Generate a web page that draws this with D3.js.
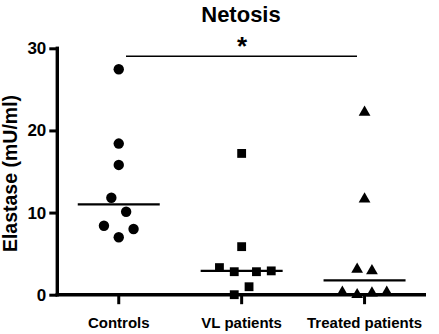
<!DOCTYPE html>
<html>
<head>
<meta charset="utf-8">
<script src="https://cdn.jsdelivr.net/npm/d3@7"></script>
<style>
  body { margin: 0; background: #fff; }
  svg text { font-family: "Liberation Sans", Arial, sans-serif; font-weight: bold; fill: #000; }
</style>
</head>
<body>
<div id="chart"></div>
<script>
// Groups and values (Elastase, mU/ml)
const groups = ["Controls", "VL patients", "Treated patients"];
const controls = [27.45, 18.4, 15.8, 11.8, 10.1, 8.4, 8.0, 7.0];
const vlPatients = [17.2, 5.85, 3.3, 2.8, 2.8, 2.9, 0.97, 0.0];
const treatedPatients = [22.2, 11.65, 3.1, 2.9, 0.3, 0.0, 0.2, 0.3];
const medians = [11.0, 2.9, 1.75];
const yTicks = [0, 10, 20, 30];

// horizontal slot of each point within its column (scatter spreading)
const controlsSlots = [0, 0, 0, -1, 1, -2, 2, 0];
const vlSlots = [0, 0, -3, -1, 2, 4, 1, -1];
const treatedSlots = [0, 0, -1, 1, -3, -1, 1, 3];

const width = 439, height = 334;
const margin = {top: 48.3, right: 13, bottom: 39.3, left: 57.3};
const innerW = width - margin.left - margin.right;
const innerH = height - margin.top - margin.bottom;

const svg = d3.select("#chart").append("svg")
    .attr("width", width)
    .attr("height", height);

const g = svg.append("g")
    .attr("transform", `translate(${margin.left},${margin.top})`);

const x = d3.scaleBand()
    .domain(groups)
    .range([0, innerW]);

const y = d3.scaleLinear()
    .domain([0, 30])
    .range([innerH, 0]);

const slotW = 7.4;

// title
svg.append("text")
    .attr("x", 241)
    .attr("y", 22)
    .attr("text-anchor", "middle")
    .style("font-size", "22px")
    .text("Netosis");

// y label
svg.append("text")
    .attr("transform", `translate(17,${margin.top + innerH / 2 + 2}) rotate(-90)`)
    .attr("text-anchor", "middle")
    .style("font-size", "19.5px")
    .text("Elastase (mU/ml)");

// y axis
const yAxis = g.append("g")
    .call(d3.axisLeft(y).tickValues(yTicks).tickSize(8).tickPadding(3).tickSizeOuter(0));
yAxis.select(".domain").attr("stroke-width", 3.4).attr("stroke", "#000")
    .attr("d", `M0,${innerH + 1.7}V-1.7`);
yAxis.selectAll(".tick line").attr("stroke-width", 3).attr("stroke", "#000");
yAxis.selectAll(".tick text")
    .style("font-size", "17px")
    .attr("fill", "#000")
    .attr("font-family", null);

// x axis
const xAxis = g.append("g")
    .attr("transform", `translate(0,${innerH})`)
    .call(d3.axisBottom(x).tickSize(9.5).tickPadding(13).tickSizeOuter(0));
xAxis.select(".domain").attr("stroke-width", 3.4).attr("stroke", "#000")
    .attr("d", `M-1.7,0H${innerW}`);
xAxis.selectAll(".tick line").attr("stroke-width", 3).attr("stroke", "#000");
xAxis.selectAll(".tick text")
    .style("font-size", "15px")
    .attr("fill", "#000")
    .attr("font-family", null);

// medians
g.selectAll(".median")
    .data(medians)
    .enter().append("line")
    .attr("class", "median")
    .attr("x1", (d, i) => x(groups[i]) + x.bandwidth() / 2 - 41)
    .attr("x2", (d, i) => x(groups[i]) + x.bandwidth() / 2 + 41)
    .attr("y1", d => y(d))
    .attr("y2", d => y(d))
    .attr("stroke", "#000")
    .attr("stroke-width", 2.2);

const cx = (grp, slot) => x(grp) + x.bandwidth() / 2 + slot * slotW;

// controls: circles
g.selectAll(".pt-c")
    .data(controls)
    .enter().append("circle")
    .attr("class", "pt-c")
    .attr("cx", (d, i) => cx(groups[0], controlsSlots[i]))
    .attr("cy", d => y(d))
    .attr("r", 5.2)
    .attr("fill", "#000");

// VL patients: squares
const sq = d3.symbol().type(d3.symbolSquare).size(78);
g.selectAll(".pt-v")
    .data(vlPatients)
    .enter().append("path")
    .attr("class", "pt-v")
    .attr("d", sq)
    .attr("transform", (d, i) => `translate(${cx(groups[1], vlSlots[i])},${y(d)})`)
    .attr("fill", "#000");

// treated patients: triangles
const tri = d3.symbol().type(d3.symbolTriangle).size(60);
g.selectAll(".pt-t")
    .data(treatedPatients)
    .enter().append("path")
    .attr("class", "pt-t")
    .attr("d", tri)
    .attr("transform", (d, i) => `translate(${cx(groups[2], treatedSlots[i])},${y(d)})`)
    .attr("fill", "#000");

// significance bar
svg.append("line")
    .attr("x1", 126)
    .attr("x2", 357)
    .attr("y1", 56.3)
    .attr("y2", 56.3)
    .attr("stroke", "#000")
    .attr("stroke-width", 1.5);

svg.append("text")
    .attr("x", 242)
    .attr("y", 55.3)
    .attr("text-anchor", "middle")
    .style("font-size", "26px")
    .text("*");
</script>
</body>
</html>
